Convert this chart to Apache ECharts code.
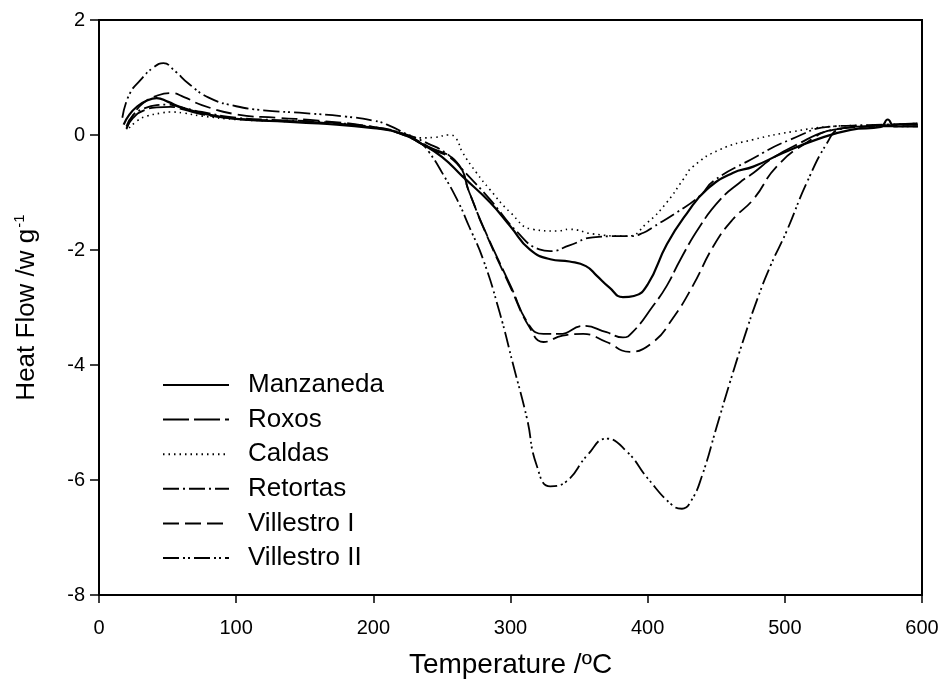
<!DOCTYPE html>
<html>
<head>
<meta charset="utf-8">
<script src="https://cdn.jsdelivr.net/npm/echarts@6/dist/echarts.min.js"></script>
<style>html,body{margin:0;padding:0;background:#fff}#c{width:942px;height:684px}</style>
</head>
<body>
<div id="c"></div>
<script>
// Series names
const seriesNames = ['Manzaneda', 'Roxos', 'Caldas', 'Retortas', 'Villestro I', 'Villestro II'];
// Axis ticks
const xTicks = [0, 100, 200, 300, 400, 500, 600];
const yTicks = [-8, -6, -4, -2, 0, 2];

// Manzaneda
const tManzaneda = [18,22,28,35,42,50,60,75,100,130,160,200,220,235,250,265,285,300,314,329,343,355,363,372,382,390,400,414,429,443,462,477,499,523,548,570,575,580,597];
const vManzaneda = [0.18,0.35,0.5,0.6,0.64,0.58,0.48,0.38,0.28,0.24,0.2,0.12,0.03,-0.15,-0.38,-0.72,-1.17,-1.59,-1.99,-2.16,-2.2,-2.28,-2.45,-2.65,-2.82,-2.8,-2.6,-1.9,-1.35,-0.95,-0.66,-0.55,-0.31,-0.08,0.09,0.14,0.27,0.15,0.15];
// Roxos
const tRoxos = [20,25,32,42,52,62,75,100,130,160,200,220,240,261,270,280,300,314,324,336,353,370,382,389,404,414,424,438,453,467,477,490,506,535,560,597];
const vRoxos = [0.12,0.3,0.42,0.48,0.49,0.44,0.36,0.28,0.25,0.22,0.13,0.02,-0.2,-0.48,-1.0,-1.59,-2.62,-3.32,-3.46,-3.46,-3.32,-3.43,-3.52,-3.43,-2.97,-2.62,-2.16,-1.59,-1.12,-0.83,-0.66,-0.42,-0.2,0.09,0.15,0.2];
// Caldas
const tCaldas = [22,28,35,45,52,62,75,100,130,160,200,220,235,245,255,260,265,275,285,300,316,334,343,360,385,400,414,426,433,453,477,506,535,560,597];
const vCaldas = [0.12,0.25,0.33,0.38,0.4,0.38,0.33,0.27,0.24,0.21,0.13,0.05,-0.05,-0.04,0.0,-0.05,-0.3,-0.65,-0.95,-1.35,-1.64,-1.67,-1.64,-1.72,-1.76,-1.52,-1.17,-0.77,-0.55,-0.25,-0.08,0.06,0.15,0.17,0.2];
// Retortas
const tRetortas = [20,25,32,42,50,60,75,100,130,160,200,220,240,255,265,285,305,321,329,343,360,378,387,397,404,421,438,448,475,504,535,560,597];
const vRetortas = [0.15,0.35,0.45,0.52,0.53,0.48,0.4,0.3,0.26,0.23,0.14,0.04,-0.15,-0.35,-0.6,-1.12,-1.69,-1.99,-2.02,-1.92,-1.78,-1.76,-1.76,-1.7,-1.6,-1.35,-1.06,-0.8,-0.43,-0.08,0.15,0.17,0.2];
// Villestro I
const tVillestroI = [20,25,32,42,52,62,75,100,130,160,200,220,240,261,270,280,300,314,324,338,353,370,387,404,418,433,448,462,477,494,516,535,560,597];
const vVillestroI = [0.1,0.35,0.55,0.68,0.73,0.66,0.52,0.36,0.3,0.25,0.14,0.02,-0.22,-0.5,-1.0,-1.6,-2.65,-3.35,-3.6,-3.49,-3.46,-3.6,-3.77,-3.6,-3.2,-2.62,-1.93,-1.47,-1.12,-0.55,-0.13,0.09,0.15,0.18];
// Villestro II
const tVillestroII = [17,22,30,40,47,55,65,80,100,120,150,180,200,210,225,235,241,250,261,270,280,292,302,312,319,329,341,356,370,385,400,418,425,432,440,450,460,470,480,490,501,516,531,540,560,597];
const vVillestroII = [0.3,0.7,0.95,1.18,1.25,1.12,0.9,0.65,0.5,0.43,0.38,0.32,0.25,0.18,0.0,-0.15,-0.31,-0.65,-1.12,-1.6,-2.16,-3.08,-4.0,-4.93,-5.74,-6.11,-6.02,-5.57,-5.28,-5.51,-5.97,-6.44,-6.5,-6.35,-5.9,-5.1,-4.3,-3.55,-2.85,-2.25,-1.69,-0.83,-0.13,0.1,0.15,0.15];

const temps = [tManzaneda, tRoxos, tCaldas, tRetortas, tVillestroI, tVillestroII];
const vals = [vManzaneda, vRoxos, vCaldas, vRetortas, vVillestroI, vVillestroII];
const styles = [
  {type: 'solid', width: 2.2},
  {type: [26, 5], width: 1.8},
  {type: [1.5, 4], width: 1.6},
  {type: [16, 4, 2, 4], width: 1.8},
  {type: [16, 6], width: 1.8},
  {type: [16, 4, 2, 3, 2, 4], width: 1.8}
];

const FONT = '"Liberation Sans", Arial, sans-serif';
const chart = echarts.init(document.getElementById('c'));
const series = seriesNames.map((name, i) => ({
  name: name,
  type: 'line',
  data: temps[i].map((t, j) => [t, vals[i][j]]),
  smooth: 0.5,
  symbol: 'none',
  lineStyle: {color: '#000', width: styles[i].width, type: styles[i].type},
  itemStyle: {color: '#000'},
  animation: false
}));

chart.setOption({
  animation: false,
  backgroundColor: '#fff',
  grid: {left: 99, right: 20, top: 20, bottom: 87, show: true, borderColor: '#000', borderWidth: 2},
  legend: {
    orient: 'vertical', left: 157, top: 367,
    itemWidth: 66, itemHeight: 14, itemGap: 8.6,
    data: seriesNames,
    itemStyle: {opacity: 0},
    textStyle: {fontSize: 26, color: '#000', fontFamily: FONT, lineHeight: 26, padding: [0, 0, 0, 14]}
  },
  xAxis: {
    type: 'value', min: xTicks[0], max: xTicks[xTicks.length - 1], interval: 100,
    axisLine: {show: true, onZero: false, lineStyle: {color: '#000', width: 2}},
    axisTick: {show: true, length: 8, lineStyle: {color: '#000', width: 1.5}},
    axisLabel: {color: '#000', fontSize: 20, margin: 23, fontFamily: FONT},
    splitLine: {show: false},
    name: 'Temperature /ºC', nameLocation: 'middle', nameGap: 56,
    nameTextStyle: {fontSize: 28, color: '#000', fontFamily: FONT}
  },
  yAxis: {
    type: 'value', min: yTicks[0], max: yTicks[yTicks.length - 1], interval: 2,
    axisLine: {show: true, onZero: false, lineStyle: {color: '#000', width: 2}},
    axisTick: {show: true, length: 9, lineStyle: {color: '#000', width: 1.5}},
    axisLabel: {color: '#000', fontSize: 20, margin: 14, fontFamily: FONT},
    splitLine: {show: false},
    name: '{a|Heat Flow /w g}{s|-1}', nameLocation: 'middle', nameGap: 58,
    nameTextStyle: {
      color: '#000', fontFamily: FONT,
      rich: {
        a: {fontSize: 26, color: '#000', fontFamily: FONT},
        s: {fontSize: 15, color: '#000', fontFamily: FONT, padding: [0, 0, 14, 1]}
      }
    }
  },
  series: series
});
</script>
</body>
</html>
